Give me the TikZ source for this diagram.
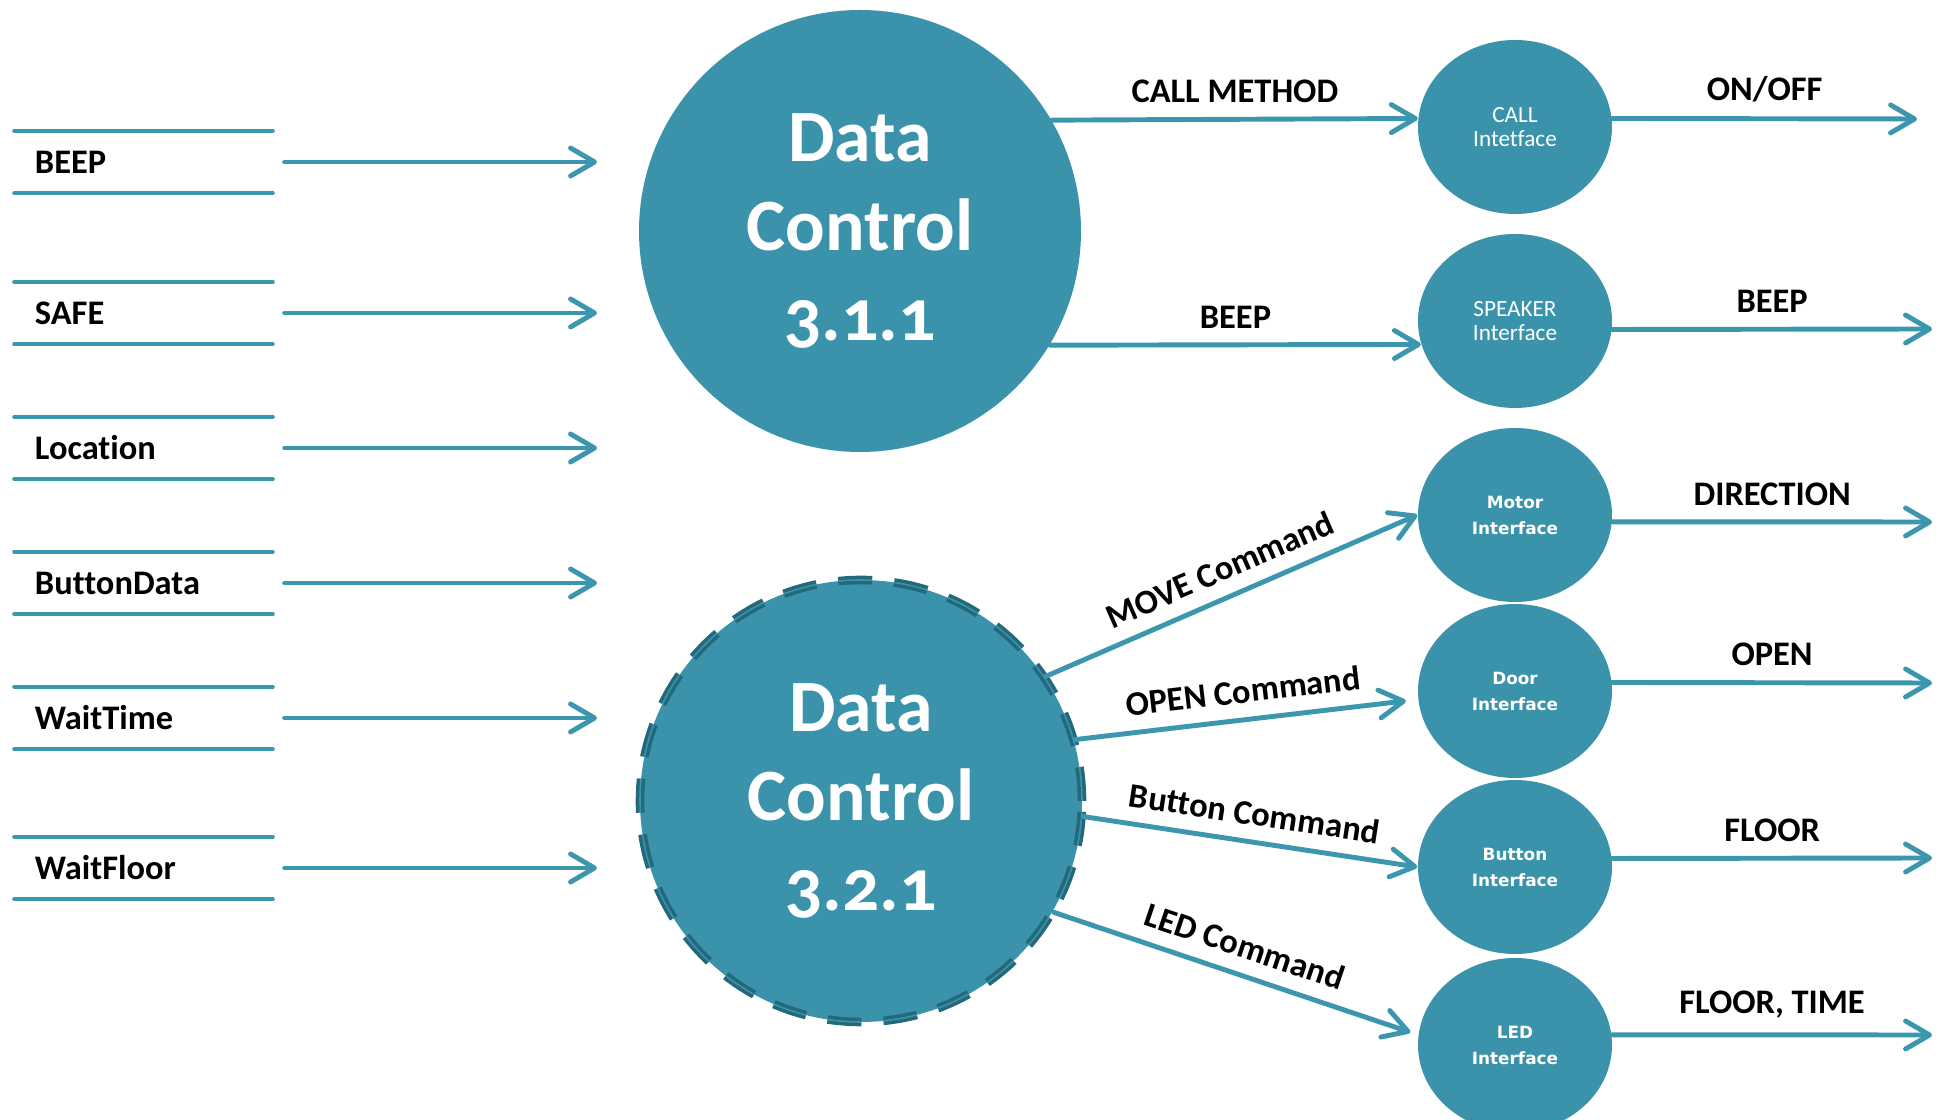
\documentclass[tikz,border=0pt]{standalone}
\usepackage{fontspec}
\setmainfont{Carlito}[Ligatures=NoCommon]
\newfontfamily\ifacefont{DejaVu Sans}
\usepackage{tikz}
\usetikzlibrary{shapes.geometric, arrows.meta, positioning}
\definecolor{dcteal}{RGB}{58, 147, 171}
\definecolor{dcdark}{RGB}{36, 104, 124}
\definecolor{dcline}{RGB}{60, 150, 174}

\begin{document}
\begin{tikzpicture}[
    proc/.style={circle, fill=dcteal, minimum size=4.42cm, inner sep=0pt, text=white, align=center, font=\bfseries\fontsize{21}{25.6}\selectfont\addfontfeatures{Numbers=OldStyle}},
    procdash/.style={proc, draw=dcdark, line width=1pt, double=dcteal, double distance=0.45pt, dash pattern=on 0.34cm off 0.22cm},
    iface/.style={ellipse, fill=dcteal, minimum width=1.94cm, minimum height=1.74cm, inner sep=0pt, text=white, align=center, font=\fontsize{6.6}{7}\selectfont},
    ifacealt/.style={iface, font=\ifacefont\bfseries\fontsize{4.8}{7.4}\selectfont},
    rule/.style={draw=dcline, line width=1.2pt, line cap=round},
    store/.style={rectangle, minimum height=0.61cm, inner ysep=0pt, inner xsep=0.2cm, text width=2.17cm, align=left, font=\bfseries\fontsize{9.8}{12}\selectfont,
        append after command={(\tikzlastnode.north west) edge[rule] (\tikzlastnode.north east) (\tikzlastnode.south west) edge[rule] (\tikzlastnode.south east)}},
    arrow/.style={draw=dcline, line width=1.4pt, line cap=round, -{Straight Barb[length=0.24cm, width=0.28cm, line cap=round, line join=round]}},
    lbl/.style={font=\bfseries\fontsize{9.8}{12}\selectfont, above=2pt, inner sep=2pt}
]
    \useasboundingbox (0, 0) rectangle (19.39, 11.20);

    % inputs
    \node[store] (beep) at (1.435, 9.58) {BEEP};
    \node[store] (safe) at (1.435, 8.07) {SAFE};
    \node[store] (loc) at (1.435, 6.72) {Location};
    \node[store] (btndata) at (1.435, 5.37) {ButtonData};
    \node[store] (wtime) at (1.435, 4.02) {WaitTime};
    \node[store] (wfloor) at (1.435, 2.52) {WaitFloor};

    \coordinate (t1) at (5.97, 9.58);
    \coordinate (t2) at (5.97, 8.07);
    \coordinate (t3) at (5.97, 6.72);
    \coordinate (t4) at (5.97, 5.37);
    \coordinate (t5) at (5.97, 4.02);
    \coordinate (t6) at (5.97, 2.52);

    % processes
    \node[proc] (dc1) at (8.60, 8.89) {Data\\Control\\3.1.1};
    \node[procdash] (dc2) at (8.61, 3.19) {Data\\Control\\3.2.1};

    % interfaces
    \node[iface] (call) at (15.15, 9.93) {CALL\\Intetface};
    \node[iface] (speaker) at (15.15, 7.99) {SPEAKER\\Interface};
    \node[ifacealt] (motor) at (15.15, 6.05) {Motor\\Interface};
    \node[ifacealt] (door) at (15.15, 4.29) {Door\\Interface};
    \node[ifacealt] (button) at (15.15, 2.53) {Button\\Interface};
    \node[ifacealt] (led) at (15.15, 0.75) {LED\\Interface};

    \coordinate (o1) at (19.17, 10.01);
    \coordinate (o2) at (19.32, 7.91);
    \coordinate (o3) at (19.32, 5.98);
    \coordinate (o4) at (19.32, 4.37);
    \coordinate (o5) at (19.32, 2.62);
    \coordinate (o6) at (19.32, 0.85);

    \draw[arrow, shorten <=0.12cm] (beep.east) -- (t1);
    \draw[arrow, shorten <=0.12cm] (safe.east) -- (t2);
    \draw[arrow, shorten <=0.12cm] (loc.east) -- (t3);
    \draw[arrow, shorten <=0.12cm] (btndata.east) -- (t4);
    \draw[arrow, shorten <=0.12cm] (wtime.east) -- (t5);
    \draw[arrow, shorten <=0.12cm] (wfloor.east) -- (t6);

    \draw[arrow] (dc1.30) -- node[lbl] (lcall) {CALL METHOD} (call.175);
    \draw[arrow] (dc1.-31) -- node[lbl] (lbeep) {BEEP} (speaker.194);
    \draw[arrow] (dc2.34) -- node[lbl, sloped] (lmove) {MOVE Command} (motor.west);
    \draw[arrow, shorten >=0.12cm] (dc2.16) -- node[lbl, sloped] (lopen) {OPEN Command} (door.185);
    \draw[arrow] (dc2.-4) -- node[lbl, sloped] (lbtn) {Button Command} (button.west);
    \draw[arrow, shorten >=0.08cm] (dc2.-30) -- node[lbl, sloped] (lled) {LED Command} (led.174);

    \draw[arrow] (call.5) -- node[lbl] (lonoff) {ON/OFF} (o1);
    \draw[arrow] (speaker.355) -- node[lbl] (lbeep2) {BEEP} (o2);
    \draw[arrow] (motor.356) -- node[lbl] (ldir) {DIRECTION} (o3);
    \draw[arrow] (door.5) -- node[lbl] (lopen2) {OPEN} (o4);
    \draw[arrow] (button.5) -- node[lbl] (lfloor) {FLOOR} (o5);
    \draw[arrow] (led.6) -- node[lbl] (lft) {FLOOR, TIME} (o6);
\end{tikzpicture}
\end{document}
